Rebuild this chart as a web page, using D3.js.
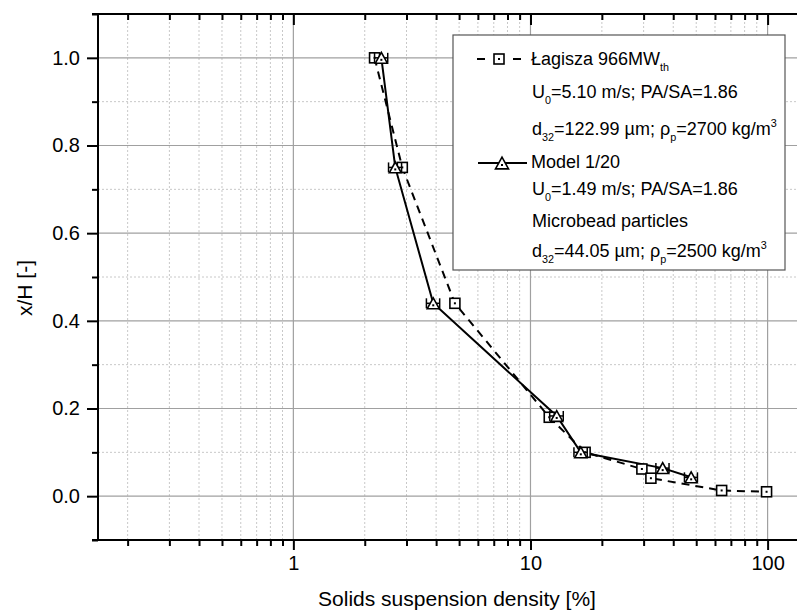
<!DOCTYPE html>
<html><head><meta charset="utf-8">
<script src="https://cdn.jsdelivr.net/npm/d3@7"></script>
<style>
html,body{margin:0;padding:0;background:#fff;}
text{font-family:"Liberation Sans",Arial,sans-serif;fill:#000;}
</style></head>
<body><svg id="c" width="797" height="610"></svg>
<script>
// ---- data ----
const lagX = [2.2, 2.88, 4.8, 12.0, 17.0, 29.5, 32.2, 64, 99];
const lagY = [1.0, 0.75, 0.44, 0.18, 0.10, 0.062, 0.041, 0.013, 0.01];
const modX = [2.35, 2.69, 3.89, 12.9, 16.3, 36.1, 47.6];
const modY = [1.0, 0.75, 0.44, 0.183, 0.10, 0.064, 0.043];
const modErr = [0.15, 0.17, 0.25, 0.85, 1.05, 2.3, 3.0];
const xMajor = [1, 10, 100];
const xMajorLabels = ["1", "10", "100"];
const xMinor = [0.2,0.3,0.4,0.5,0.6,0.7,0.8,0.9,2,3,4,5,6,7,8,9,20,30,40,50,60,70,80,90];
const yMajor = [0.0, 0.2, 0.4, 0.6, 0.8, 1.0];
const yMajorLabels = ["0.0","0.2","0.4","0.6","0.8","1.0"];
const yMinor = [-0.1, 0.1, 0.3, 0.5, 0.7, 0.9, 1.1];
const xTitle = "Solids suspension density [%]";
const yTitle = "x/H [-]";

const svg = d3.select("#c");
svg.append("rect").attr("width",797).attr("height",610).attr("fill","#fff");

const L = 98, R = 816, T = 14, B = 540;
const x = d3.scaleLog().domain([0.15, 160]).range([L, R]);
const y = d3.scaleLinear().domain([-0.1, 1.1]).range([B, T]);

// grid
const g = svg.append("g");
g.selectAll(".vmin").data(xMinor).join("line")
  .attr("x1",d=>x(d)).attr("x2",d=>x(d)).attr("y1",T).attr("y2",B)
  .attr("stroke","#c8c8c8").attr("stroke-width",1).attr("stroke-dasharray","2,2");
g.selectAll(".hmin").data(yMinor.filter(v=>v>-0.1&&v<1.1)).join("line")
  .attr("x1",L).attr("x2",R).attr("y1",d=>y(d)).attr("y2",d=>y(d))
  .attr("stroke","#c8c8c8").attr("stroke-width",1).attr("stroke-dasharray","2,2");
g.selectAll(".vmaj").data(xMajor).join("line")
  .attr("x1",d=>x(d)).attr("x2",d=>x(d)).attr("y1",T).attr("y2",B)
  .attr("stroke","#a0a0a0").attr("stroke-width",1.2);
g.selectAll(".hmaj").data(yMajor).join("line")
  .attr("x1",L).attr("x2",R).attr("y1",d=>y(d)).attr("y2",d=>y(d))
  .attr("stroke","#a0a0a0").attr("stroke-width",1.2);

// axes
const axB = d3.axisBottom(x).tickValues(xMajor).tickFormat((d,i)=>xMajorLabels[i]).tickSize(10).tickPadding(6);
svg.append("g").attr("transform",`translate(0,${B})`).call(axB);
const axBm = d3.axisBottom(x).tickValues(xMinor).tickFormat("").tickSize(6);
svg.append("g").attr("transform",`translate(0,${B})`).call(axBm);
const axT = d3.axisBottom(x).tickValues(xMajor).tickFormat("").tickSize(11);
svg.append("g").attr("transform",`translate(0,${T})`).call(axT);
const axTm = d3.axisBottom(x).tickValues(xMinor).tickFormat("").tickSize(6);
svg.append("g").attr("transform",`translate(0,${T})`).call(axTm);
const axL = d3.axisLeft(y).tickValues(yMajor).tickFormat((d,i)=>yMajorLabels[i]).tickSize(11).tickPadding(7);
svg.append("g").attr("transform",`translate(${L},0)`).call(axL);
const axLm = d3.axisLeft(y).tickValues(yMinor).tickFormat("").tickSize(6);
svg.append("g").attr("transform",`translate(${L},0)`).call(axLm);
svg.selectAll(".domain").remove();
svg.selectAll(".tick line").attr("stroke","#000").attr("stroke-width",2);
svg.selectAll(".tick text").attr("font-size",20).attr("font-family","Liberation Sans, Arial, sans-serif");
// axis lines
svg.append("line").attr("x1",L).attr("x2",L).attr("y1",T-1).attr("y2",B+1).attr("stroke","#000").attr("stroke-width",2);
svg.append("line").attr("x1",L-6).attr("x2",R).attr("y1",T).attr("y2",T).attr("stroke","#000").attr("stroke-width",2);
svg.append("line").attr("x1",L-6).attr("x2",R).attr("y1",B).attr("y2",B).attr("stroke","#000").attr("stroke-width",2);

// titles
svg.append("text").attr("x",457).attr("y",606).attr("text-anchor","middle").attr("font-size",21).text(xTitle);
svg.append("text").attr("transform","translate(32,288) rotate(-90)").attr("text-anchor","middle").attr("font-size",21).text(yTitle);

// data lines
const lagData = lagX.map((v,i)=>[v,lagY[i]]);
const modData = modX.map((v,i)=>[v,modY[i]]);
const line = d3.line().x(d=>x(d[0])).y(d=>y(d[1]));
svg.append("path").datum(lagData).attr("d",line).attr("fill","none").attr("stroke","#000").attr("stroke-width",2).attr("stroke-dasharray","8,6");
svg.append("path").datum(modData).attr("d",line).attr("fill","none").attr("stroke","#000").attr("stroke-width",2);

function square(sel,cx,cy,s){
  sel.append("rect").attr("x",cx-s/2).attr("y",cy-s/2).attr("width",s).attr("height",s)
    .attr("fill","#fff").attr("stroke","#000").attr("stroke-width",1.6);
  sel.append("rect").attr("x",cx-1).attr("y",cy-1).attr("width",2).attr("height",2).attr("fill","#000");
}
function tri(sel,cx,cy,s){
  const h = s*0.9;
  sel.append("path").attr("d",`M${cx-s/2},${cy+h/2}L${cx},${cy-h/2}L${cx+s/2},${cy+h/2}Z`)
    .attr("fill","#fff").attr("stroke","#000").attr("stroke-width",1.6).attr("stroke-linejoin","miter");
  sel.append("rect").attr("x",cx-1).attr("y",cy+1).attr("width",2).attr("height",2).attr("fill","#000");
}
const mk = svg.append("g");
lagData.forEach(d=>square(mk,x(d[0]),y(d[1]),10));
// error bars for model
modData.forEach((d,i)=>{
  const x0 = x(d[0]-modErr[i]), x1 = x(d[0]+modErr[i]), yy = y(d[1]);
  mk.append("line").attr("x1",x0).attr("x2",x1).attr("y1",yy).attr("y2",yy).attr("stroke","#000").attr("stroke-width",1.5);
  [x0,x1].forEach(xx=>mk.append("line").attr("x1",xx).attr("x2",xx).attr("y1",yy-5).attr("y2",yy+5).attr("stroke","#000").attr("stroke-width",1.5));
});
modData.forEach(d=>tri(mk,x(d[0]),y(d[1]),12));

// legend
const lg = svg.append("g");
lg.append("rect").attr("x",453).attr("y",35).attr("width",332).attr("height",235)
  .attr("fill","#fff").attr("stroke","#555").attr("stroke-width",1.2);
lg.append("line").attr("x1",477).attr("x2",485).attr("y1",59).attr("y2",59).attr("stroke","#000").attr("stroke-width",2);
lg.append("line").attr("x1",513).attr("x2",521).attr("y1",59).attr("y2",59).attr("stroke","#000").attr("stroke-width",2);
square(lg,499,59,10);
lg.append("line").attr("x1",478).attr("x2",527).attr("y1",163).attr("y2",163).attr("stroke","#000").attr("stroke-width",2);
tri(lg,502,163,13);

const FS = 18;
function richText(xx,yy,parts){
  const t = lg.append("text").attr("x",xx).attr("y",yy).attr("font-size",FS);
  parts.forEach(p=>{
    const s = t.append("tspan").text(p.t);
    if(p.sub){ s.attr("font-size",FS*0.6).attr("dy",6); }
    else if(p.sup){ s.attr("font-size",FS*0.6).attr("dy",-8); }
    if(p.back) s.attr("dy",p.back);
  });
  return t;
}
richText(531,65,[{t:"Łagisza 966MW"},{t:"th",sub:true}]);
richText(532,98,[{t:"U"},{t:"0",sub:true},{t:"=5.10 m/s; PA/SA=1.86",back:-6}]);
richText(532,135,[{t:"d"},{t:"32",sub:true},{t:"=122.99 µm; ρ",back:-6},{t:"p",sub:true},{t:"=2700 kg/m",back:-6},{t:"3",sup:true}]);
richText(531,168,[{t:"Model 1/20"}]);
richText(532,195,[{t:"U"},{t:"0",sub:true},{t:"=1.49 m/s; PA/SA=1.86",back:-6}]);
richText(532,227,[{t:"Microbead particles"}]);
richText(532,257,[{t:"d"},{t:"32",sub:true},{t:"=44.05 µm; ρ",back:-6},{t:"p",sub:true},{t:"=2500 kg/m",back:-6},{t:"3",sup:true}]);
</script></body></html>
